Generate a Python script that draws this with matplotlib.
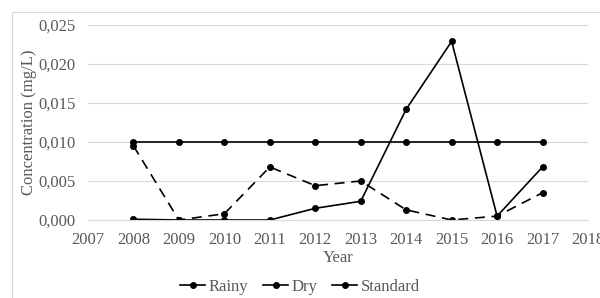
import matplotlib.pyplot as plt
from matplotlib.ticker import FuncFormatter, MultipleLocator
from matplotlib.patches import Rectangle

plt.rcParams['font.family'] = ['Liberation Serif', 'DejaVu Serif']

years = [2008, 2009, 2010, 2011, 2012, 2013, 2014, 2015, 2016, 2017]
rainy = [0.0001, 0.0, 0.0, 0.0, 0.0015, 0.0024, 0.0142, 0.0229, 0.0005, 0.0068]
dry = [0.0095, 0.0, 0.0008, 0.0068, 0.0044, 0.0050, 0.0013, 0.0, 0.0005, 0.0035]
standard = [0.010] * 10

grey = '#595959'
fs = 12
fig = plt.figure(figsize=(6, 2.98), dpi=100)
fig.patches.append(Rectangle((12 / 600, -0.1), 1.0, 1.1 - 12 / 298, transform=fig.transFigure,
                             fill=False, edgecolor='#d9d9d9', linewidth=0.8))
ax = fig.add_axes([88 / 600, 1 - 220 / 298, 500 / 600, 195 / 298])

ax.plot(years, rainy, color='black', lw=1.2, marker='o', ms=4, label='Rainy')
ax.plot(years, dry, color='black', lw=1.2, ls=(0, (6, 4)), marker='o', ms=4, label='Dry')
ax.plot(years, standard, color='black', lw=1.2, marker='o', ms=4, label='Standard')

ax.set_xlim(2007, 2018)
ax.set_ylim(0, 0.025)
ax.xaxis.set_major_locator(MultipleLocator(1))
ax.yaxis.set_major_locator(MultipleLocator(0.005))
ax.yaxis.set_major_formatter(FuncFormatter(lambda v, p: f'{v:.3f}'.replace('.', ',')))
ax.grid(axis='y', color='#d9d9d9', lw=0.8)
ax.set_axisbelow(True)
for s in ['top', 'right', 'left']:
    ax.spines[s].set_visible(False)
ax.spines['bottom'].set_color('#d9d9d9')
ax.tick_params(length=0, labelsize=fs, colors=grey)
ax.tick_params(axis='x', pad=9)
ax.tick_params(axis='y', pad=9)
ax.set_xlabel('Year', fontsize=fs, color=grey, labelpad=1)
ax.set_ylabel('Concentration (mg/L)', fontsize=fs, color=grey, labelpad=1)

fig.legend(loc='center', bbox_to_anchor=(0.5, 1 - 287 / 298), ncol=3, frameon=False,
           fontsize=fs, labelcolor=grey, handlelength=1.5, handletextpad=0.2, columnspacing=0.9)
for h in fig.legends[0].legend_handles:
    h.set_linestyle('-')

fig.savefig('out.png', dpi=100)
